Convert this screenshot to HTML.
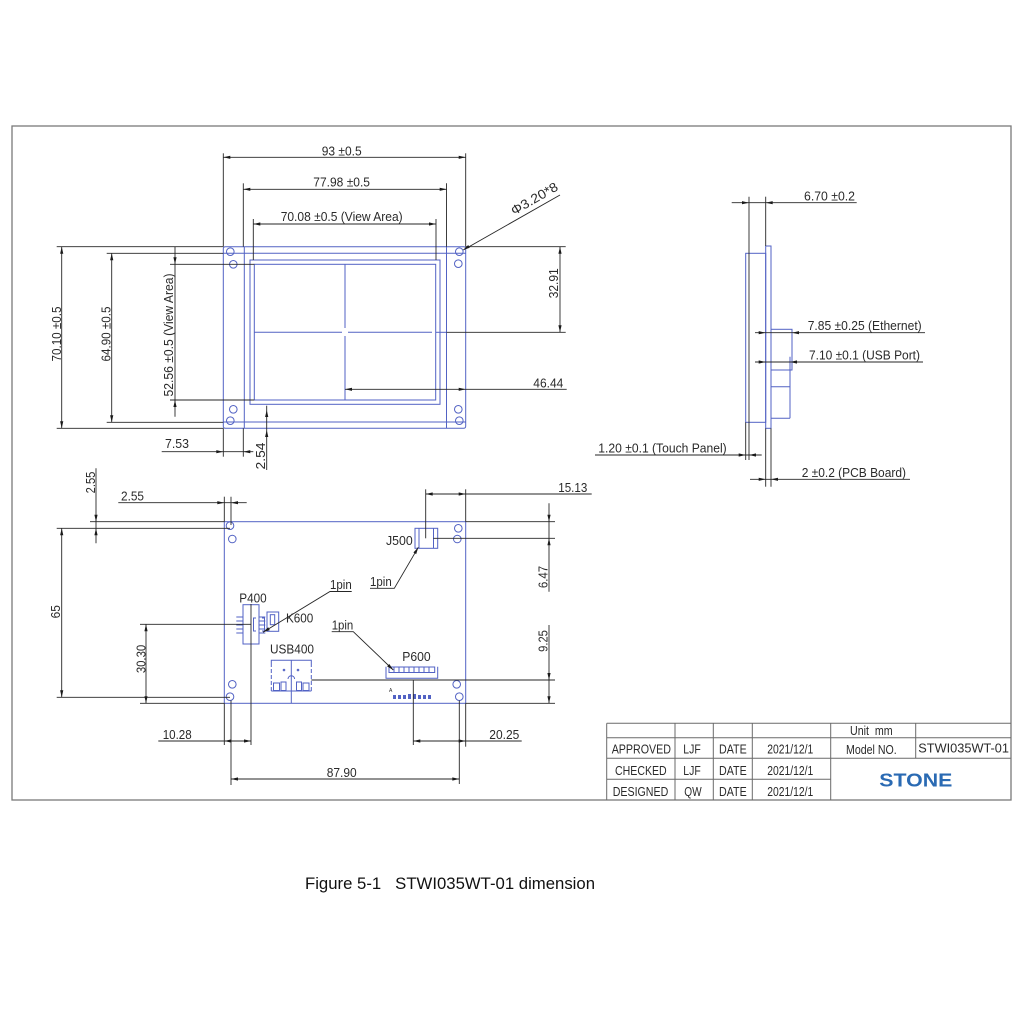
<!DOCTYPE html>
<html><head><meta charset="utf-8"><style>
html,body{margin:0;padding:0;background:#fff;}
svg{display:block;}
text{font-family:"Liberation Sans",Arial,sans-serif;fill:#2a2a2a;}
.k{stroke:#262626;stroke-width:0.9;fill:none;}
.b{stroke:#5262c4;stroke-width:1;fill:none;}
.t{stroke:#6a6a6a;stroke-width:1;fill:none;}
.a{fill:#1a1a1a;stroke:none;}
.d{font-size:13px;}
.tb{font-size:12.5px;}
</style></head><body>
<svg width="1024" height="1024" viewBox="0 0 1024 1024" xmlns="http://www.w3.org/2000/svg">
<rect x="0" y="0" width="1024" height="1024" fill="#fff"/>
<!-- frame -->
<rect x="12" y="126" width="999" height="674" fill="none" stroke="#7a7a7a" stroke-width="1.3"/>

<!-- ================= FRONT VIEW ================= -->
<g class="b">
<rect x="223.3" y="246.7" width="242.4" height="181.6" rx="2"/>
<line x1="223.3" y1="253.3" x2="465.7" y2="253.3"/>
<line x1="223.3" y1="422" x2="465.7" y2="422"/>
<line x1="244.3" y1="246.7" x2="244.3" y2="428.3"/>
<line x1="446.5" y1="246.7" x2="446.5" y2="428.3"/>
<rect x="250" y="260" width="190" height="144.3"/>
<rect x="254.3" y="264.3" width="181.4" height="135.7"/>
<line x1="345" y1="264.3" x2="345" y2="328"/>
<line x1="345" y1="336" x2="345" y2="400"/>
<line x1="254.3" y1="332.3" x2="342" y2="332.3"/>
<line x1="348" y1="332.3" x2="432" y2="332.3"/>
<line x1="436" y1="332.3" x2="446.5" y2="332.3"/>
<circle cx="230.3" cy="251.7" r="3.8"/>
<circle cx="233.3" cy="264.3" r="3.8"/>
<circle cx="233.3" cy="409.3" r="3.8"/>
<circle cx="230.3" cy="420.7" r="3.8"/>
<circle cx="459.3" cy="251.7" r="3.8"/>
<circle cx="458.3" cy="263.7" r="3.8"/>
<circle cx="458.3" cy="409.3" r="3.8"/>
<circle cx="459.3" cy="420.7" r="3.8"/>
</g>
<g class="k">
<!-- 93 -->
<line x1="223.3" y1="153.3" x2="223.3" y2="246.7"/>
<line x1="223.3" y1="428.3" x2="223.3" y2="456.7"/>
<line x1="465.7" y1="153.3" x2="465.7" y2="246.7"/>
<line x1="223.3" y1="157.3" x2="465.7" y2="157.3"/>
<!-- 77.98 -->
<line x1="243.3" y1="183.3" x2="243.3" y2="246.7"/>
<line x1="243.3" y1="428.3" x2="243.3" y2="456.7"/>
<line x1="446.5" y1="183.3" x2="446.5" y2="246.7"/>
<line x1="243.3" y1="189.3" x2="446.7" y2="189.3"/>
<!-- 70.08 -->
<line x1="253.3" y1="219" x2="253.3" y2="260"/>
<line x1="436" y1="219" x2="436" y2="260"/>
<line x1="253.3" y1="224" x2="436" y2="224"/>
<!-- 70.10 -->
<line x1="56.7" y1="246.7" x2="223.3" y2="246.7"/>
<line x1="56.7" y1="428.3" x2="223.3" y2="428.3"/>
<line x1="61.7" y1="246.7" x2="61.7" y2="428.3"/>
<!-- 64.90 -->
<line x1="106.7" y1="253.3" x2="223.3" y2="253.3"/>
<line x1="106.7" y1="422.3" x2="223.3" y2="422.3"/>
<line x1="111.7" y1="253.3" x2="111.7" y2="422.3"/>
<!-- 52.56 -->
<line x1="170" y1="264.3" x2="254.3" y2="264.3"/>
<line x1="170" y1="400" x2="254.3" y2="400"/>
<line x1="175" y1="246.7" x2="175" y2="416.7"/>
<!-- 7.53 -->
<line x1="161.7" y1="451.7" x2="253.3" y2="451.7"/>
<!-- 2.54 -->
<line x1="266.7" y1="405.7" x2="266.7" y2="470"/>
<!-- 32.91 -->
<line x1="465.7" y1="246.7" x2="565.7" y2="246.7"/>
<line x1="446.5" y1="332.3" x2="565.7" y2="332.3"/>
<line x1="560" y1="246.7" x2="560" y2="332.3"/>
<!-- 46.44 -->
<line x1="345" y1="389.3" x2="566.7" y2="389.3"/>
<!-- phi leader -->
<line x1="463.3" y1="250" x2="560" y2="195"/>
</g>
<g class="a">
<polygon points="223.3,157.3 230.3,155.7 230.3,158.9"/>
<polygon points="465.7,157.3 458.7,155.7 458.7,158.9"/>
<polygon points="243.3,189.3 250.3,187.7 250.3,190.9"/>
<polygon points="446.7,189.3 439.7,187.7 439.7,190.9"/>
<polygon points="253.3,224 260.3,222.4 260.3,225.6"/>
<polygon points="436,224 429,222.4 429,225.6"/>
<polygon points="61.7,246.7 60.1,253.7 63.3,253.7"/>
<polygon points="61.7,428.3 60.1,421.3 63.3,421.3"/>
<polygon points="111.7,253.3 110.1,260.3 113.3,260.3"/>
<polygon points="111.7,422.3 110.1,415.3 113.3,415.3"/>
<polygon points="175,264.3 173.4,257.3 176.6,257.3"/>
<polygon points="175,400 173.4,407 176.6,407"/>
<polygon points="223.3,451.7 216.3,450.1 216.3,453.3"/>
<polygon points="243.3,451.7 250.3,450.1 250.3,453.3"/>
<polygon points="266.7,410 265.1,417 268.3,417"/>
<polygon points="266.7,430 265.1,437 268.3,437"/>
<polygon points="560,246.7 558.4,253.7 561.6,253.7"/>
<polygon points="560,332.3 558.4,325.3 561.6,325.3"/>
<polygon points="345,389.3 352,387.7 352,390.9"/>
<polygon points="465.7,389.3 458.7,387.7 458.7,390.9"/>
<polygon points="463,250 469.8,247.8 468.2,245"/>
</g>
<g class="d">
<text x="321.7" y="155.5" textLength="40" lengthAdjust="spacingAndGlyphs">93 ±0.5</text>
<text x="313.3" y="186.5" textLength="56.7" lengthAdjust="spacingAndGlyphs">77.98 ±0.5</text>
<text x="280.7" y="221" textLength="122" lengthAdjust="spacingAndGlyphs">70.08 ±0.5 (View Area)</text>
<text x="533.3" y="387.5" textLength="30" lengthAdjust="spacingAndGlyphs">46.44</text>
<text x="165" y="448" textLength="24" lengthAdjust="spacingAndGlyphs">7.53</text>
<text transform="translate(61,334) rotate(-90)" x="0" y="0" text-anchor="middle" textLength="55" lengthAdjust="spacingAndGlyphs">70.10 ±0.5</text>
<text transform="translate(110.5,334) rotate(-90)" x="0" y="0" text-anchor="middle" textLength="55" lengthAdjust="spacingAndGlyphs">64.90 ±0.5</text>
<text transform="translate(173,335) rotate(-90)" x="0" y="0" text-anchor="middle" textLength="123" lengthAdjust="spacingAndGlyphs">52.56 ±0.5 (View Area)</text>
<text transform="translate(265,456) rotate(-90)" x="0" y="0" text-anchor="middle" textLength="27" lengthAdjust="spacingAndGlyphs">2.54</text>
<text transform="translate(558,283.3) rotate(-90)" x="0" y="0" text-anchor="middle" textLength="30" lengthAdjust="spacingAndGlyphs">32.91</text>
<text transform="translate(514,215.5) rotate(-30)" x="0" y="0" textLength="52" lengthAdjust="spacingAndGlyphs">Φ3.20*8</text>
</g>

<!-- ================= SIDE VIEW ================= -->
<g class="b">
<rect x="745.7" y="253.3" width="20" height="169"/>
<rect x="765.7" y="246" width="5.3" height="182.3"/>
<rect x="771" y="329.3" width="21" height="40.7"/>
<line x1="771" y1="386.7" x2="790" y2="386.7"/>
<line x1="771" y1="418.3" x2="790" y2="418.3"/>
<line x1="790" y1="356.7" x2="790" y2="418.3"/>
</g>
<g class="k">
<line x1="749" y1="196.7" x2="749" y2="460"/>
<line x1="745.7" y1="422.3" x2="745.7" y2="460"/>
<line x1="765.7" y1="196.7" x2="765.7" y2="246"/>
<line x1="765.7" y1="428.3" x2="765.7" y2="486.7"/>
<line x1="771" y1="428.3" x2="771" y2="486.7"/>
<line x1="731.7" y1="202.7" x2="856.7" y2="202.7"/>
<line x1="755" y1="332.7" x2="925" y2="332.7"/>
<line x1="755" y1="362" x2="923" y2="362"/>
<line x1="595" y1="455" x2="761.7" y2="455"/>
<line x1="750" y1="479.3" x2="910" y2="479.3"/>
</g>
<g class="a">
<polygon points="749,202.7 742,201.1 742,204.3"/>
<polygon points="765.7,202.7 772.7,201.1 772.7,204.3"/>
<polygon points="765.7,332.7 758.7,331.1 758.7,334.3"/>
<polygon points="792,332.7 799,331.1 799,334.3"/>
<polygon points="765.7,362 758.7,360.4 758.7,363.6"/>
<polygon points="790,362 797,360.4 797,363.6"/>
<polygon points="745.7,455 738.7,453.4 738.7,456.6"/>
<polygon points="749,455 756,453.4 756,456.6"/>
<polygon points="765.7,479.3 758.7,477.7 758.7,480.9"/>
<polygon points="771,479.3 778,477.7 778,480.9"/>
</g>
<g class="d">
<text x="804" y="200.5" textLength="51" lengthAdjust="spacingAndGlyphs">6.70 ±0.2</text>
<text x="807.7" y="330" textLength="114" lengthAdjust="spacingAndGlyphs">7.85 ±0.25 (Ethernet)</text>
<text x="809" y="359.5" textLength="111" lengthAdjust="spacingAndGlyphs">7.10 ±0.1 (USB Port)</text>
<text x="598.3" y="452.5" textLength="128.4" lengthAdjust="spacingAndGlyphs">1.20 ±0.1 (Touch Panel)</text>
<text x="801.7" y="477" textLength="104.3" lengthAdjust="spacingAndGlyphs">2 ±0.2 (PCB Board)</text>
</g>

<!-- ================= BOTTOM VIEW ================= -->
<g class="b">
<rect x="224.3" y="521.7" width="241.4" height="181.6"/>
<circle cx="230" cy="525.7" r="3.8"/>
<circle cx="232.3" cy="539" r="3.8"/>
<circle cx="232.3" cy="684.3" r="3.8"/>
<circle cx="230" cy="696.7" r="3.8"/>
<circle cx="458.3" cy="528.3" r="3.8"/>
<circle cx="457.3" cy="539" r="3.8"/>
<circle cx="456.7" cy="684.3" r="3.8"/>
<circle cx="459.3" cy="696.7" r="3.8"/>
<!-- J500 -->
<rect x="415" y="528.3" width="22.7" height="20"/>
<line x1="419" y1="528.3" x2="419" y2="548.3"/>
<line x1="433.5" y1="528.3" x2="433.5" y2="548.3"/>
<!-- P400 -->
<rect x="243" y="604.7" width="16" height="39.3"/>
<line x1="236.3" y1="617" x2="243" y2="617"/>
<line x1="236.3" y1="621" x2="243" y2="621"/>
<line x1="236.3" y1="625" x2="243" y2="625"/>
<line x1="236.3" y1="629" x2="243" y2="629"/>
<line x1="236.3" y1="633" x2="243" y2="633"/>
<line x1="259" y1="617" x2="265.3" y2="617"/>
<line x1="259" y1="621" x2="265.3" y2="621"/>
<line x1="259" y1="625" x2="265.3" y2="625"/>
<line x1="259" y1="629" x2="265.3" y2="629"/>
<line x1="259" y1="633" x2="265.3" y2="633"/>
<path d="M256,618 h-2.5 v13 h2.5 M262,618 h2.5 v13 h-2.5"/>
<!-- K600 -->
<rect x="267" y="612" width="11.7" height="19.3"/>
<rect x="270.3" y="614.7" width="4.4" height="10"/>
<!-- USB400 -->
<path d="M271.3,663 v-2.7 h40 v2.7" />
<line x1="271.3" y1="663" x2="271.3" y2="691" stroke-dasharray="4,2"/>
<line x1="311.3" y1="663" x2="311.3" y2="691" stroke-dasharray="4,2"/>
<line x1="291.3" y1="660.3" x2="291.3" y2="703.3"/>
<rect x="273.5" y="683" width="6" height="7.5"/>
<rect x="281" y="682" width="5" height="8.5"/>
<rect x="296.5" y="682" width="5" height="8.5"/>
<rect x="303" y="683" width="6" height="7.5"/>
<line x1="271.3" y1="691" x2="311.3" y2="691"/>
<circle cx="284" cy="670" r="0.8"/>
<circle cx="298" cy="670" r="0.8"/>
<path d="M288,679 a3.3,3.3 0 0 1 6.6,0"/>
<!-- P600 -->
<path d="M386,666.7 v11.6 h51.7 v-11.6"/>
<rect x="389" y="667" width="45.7" height="5.5"/>
<line x1="394" y1="667" x2="394" y2="672.5"/>
<line x1="399" y1="667" x2="399" y2="672.5"/>
<line x1="404" y1="667" x2="404" y2="672.5"/>
<line x1="409" y1="667" x2="409" y2="672.5"/>
<line x1="414" y1="667" x2="414" y2="672.5"/>
<line x1="419" y1="667" x2="419" y2="672.5"/>
<line x1="424" y1="667" x2="424" y2="672.5"/>
<line x1="429" y1="667" x2="429" y2="672.5"/>
</g>
<g fill="#5262c4">
<rect x="393" y="695" width="3" height="4"/>
<rect x="398" y="695" width="3" height="4"/>
<rect x="403" y="695" width="3" height="4"/>
<rect x="408" y="694" width="3" height="5"/>
<rect x="413" y="694" width="3" height="5"/>
<rect x="418" y="695" width="3" height="4"/>
<rect x="423" y="695" width="3" height="4"/>
<rect x="428" y="695" width="3" height="4"/>
<text x="389" y="692" font-size="5" fill="#5262c4">A</text>
</g>
<g class="k">
<!-- 2.55 horizontal -->
<line x1="118.3" y1="502.7" x2="246.7" y2="502.7"/>
<line x1="224.3" y1="496.7" x2="224.3" y2="521.7"/>
<line x1="231" y1="496.7" x2="231" y2="525"/>
<!-- 2.55 vertical -->
<line x1="96" y1="468.3" x2="96" y2="543.3"/>
<line x1="90" y1="521.7" x2="224.3" y2="521.7"/>
<line x1="56.7" y1="528.3" x2="230" y2="528.3"/>
<!-- 65 -->
<line x1="61.7" y1="528.3" x2="61.7" y2="697.3"/>
<line x1="56.7" y1="697.3" x2="230" y2="697.3"/>
<!-- 30.30 -->
<line x1="146" y1="624.3" x2="146" y2="703.3"/>
<line x1="140" y1="624.3" x2="251" y2="624.3"/>
<line x1="140" y1="703.3" x2="224.3" y2="703.3"/>
<!-- 10.28 -->
<line x1="158.3" y1="741" x2="251" y2="741"/>
<line x1="224.3" y1="703.3" x2="224.3" y2="745"/>
<line x1="231" y1="700.5" x2="231" y2="785"/>
<line x1="251" y1="604" x2="251" y2="745"/>
<!-- 87.90 -->
<line x1="231" y1="779" x2="459.3" y2="779"/>
<line x1="459.3" y1="700.5" x2="459.3" y2="784"/>
<!-- 20.25 -->
<line x1="413.3" y1="741" x2="521.7" y2="741"/>
<line x1="413.3" y1="680" x2="413.3" y2="745"/>
<line x1="465.7" y1="703.3" x2="465.7" y2="746.7"/>
<!-- 15.13 -->
<line x1="425.7" y1="494" x2="591.7" y2="494"/>
<line x1="425.7" y1="489.3" x2="425.7" y2="538.3"/>
<line x1="465.7" y1="489.3" x2="465.7" y2="521.7"/>
<!-- 6.47 -->
<line x1="549" y1="503.3" x2="549" y2="591.7"/>
<line x1="465.7" y1="521.7" x2="555" y2="521.7"/>
<line x1="433.3" y1="538.3" x2="555" y2="538.3"/>
<!-- 9.25 -->
<line x1="549" y1="625" x2="549" y2="703.3"/>
<line x1="311.3" y1="680" x2="555" y2="680"/>
<line x1="465.7" y1="703.3" x2="555" y2="703.3"/>
<!-- leaders -->
<polyline points="418.3,547.3 394.3,588.3 370,588.3"/>
<polyline points="263,632.3 330,591.5 351.7,591.5"/>
<polyline points="393.3,670 353.3,631.7 331.7,631.7"/>
</g>
<g class="a">
<polygon points="224.3,502.7 217.3,501.1 217.3,504.3"/>
<polygon points="231,502.7 238,501.1 238,504.3"/>
<polygon points="96,521.7 94.4,514.7 97.6,514.7"/>
<polygon points="96,528.3 94.4,535.3 97.6,535.3"/>
<polygon points="61.7,528.3 60.1,535.3 63.3,535.3"/>
<polygon points="61.7,697.3 60.1,690.3 63.3,690.3"/>
<polygon points="146,624.3 144.4,631.3 147.6,631.3"/>
<polygon points="146,703.3 144.4,696.3 147.6,696.3"/>
<polygon points="224.3,741 231.3,739.4 231.3,742.6"/>
<polygon points="251,741 244,739.4 244,742.6"/>
<polygon points="231,779 238,777.4 238,780.6"/>
<polygon points="459.3,779 452.3,777.4 452.3,780.6"/>
<polygon points="413.3,741 420.3,739.4 420.3,742.6"/>
<polygon points="465.7,741 458.7,739.4 458.7,742.6"/>
<polygon points="425.7,494 432.7,492.4 432.7,495.6"/>
<polygon points="465.7,494 458.7,492.4 458.7,495.6"/>
<polygon points="549,521.7 547.4,514.7 550.6,514.7"/>
<polygon points="549,538.3 547.4,545.3 550.6,545.3"/>
<polygon points="549,680 547.4,673 550.6,673"/>
<polygon points="549,703.3 547.4,696.3 550.6,696.3"/>
<polygon points="418.3,547.3 416.2,554.1 413.4,552.5"/>
<polygon points="263,632.3 269.8,630.1 268.2,627.3"/>
<polygon points="393.3,670 389.3,664 387.1,666.4"/>
</g>
<g class="d">
<text transform="translate(95,482.5) rotate(-90)" x="0" y="0" text-anchor="middle" textLength="21.7" lengthAdjust="spacingAndGlyphs">2.55</text>
<text x="121" y="500.5" textLength="23" lengthAdjust="spacingAndGlyphs">2.55</text>
<text transform="translate(60,611.7) rotate(-90)" x="0" y="0" text-anchor="middle" textLength="13.3" lengthAdjust="spacingAndGlyphs">65</text>
<text transform="translate(145.5,659) rotate(-90)" x="0" y="0" text-anchor="middle" textLength="28.3" lengthAdjust="spacingAndGlyphs">30.30</text>
<text x="162.7" y="739" textLength="29" lengthAdjust="spacingAndGlyphs">10.28</text>
<text x="326.7" y="777" textLength="30" lengthAdjust="spacingAndGlyphs">87.90</text>
<text x="489.3" y="739" textLength="30" lengthAdjust="spacingAndGlyphs">20.25</text>
<text x="558.3" y="492" textLength="29" lengthAdjust="spacingAndGlyphs">15.13</text>
<text transform="translate(547.5,577) rotate(-90)" x="0" y="0" text-anchor="middle" textLength="22.3" lengthAdjust="spacingAndGlyphs">6.47</text>
<text transform="translate(547.5,641) rotate(-90)" x="0" y="0" text-anchor="middle" textLength="21.7" lengthAdjust="spacingAndGlyphs">9.25</text>
<text x="386" y="545" textLength="26.7" lengthAdjust="spacingAndGlyphs">J500</text>
<text x="370" y="586" textLength="21.7" lengthAdjust="spacingAndGlyphs">1pin</text>
<text x="330" y="589" textLength="21.7" lengthAdjust="spacingAndGlyphs">1pin</text>
<text x="331.7" y="629.3" textLength="21.6" lengthAdjust="spacingAndGlyphs">1pin</text>
<text x="402.3" y="661" textLength="28.4" lengthAdjust="spacingAndGlyphs">P600</text>
<text x="239.3" y="602.7" textLength="27.4" lengthAdjust="spacingAndGlyphs">P400</text>
<text x="286" y="622.3" textLength="27.3" lengthAdjust="spacingAndGlyphs">K600</text>
<text x="270" y="653.3" textLength="44" lengthAdjust="spacingAndGlyphs">USB400</text>
</g>

<!-- ================= TITLE BLOCK ================= -->
<g class="t">
<line x1="606.7" y1="723.3" x2="1011" y2="723.3"/>
<line x1="606.7" y1="737.7" x2="1011" y2="737.7"/>
<line x1="606.7" y1="758.3" x2="1011" y2="758.3"/>
<line x1="606.7" y1="779.3" x2="830.7" y2="779.3"/>
<line x1="606.7" y1="723.3" x2="606.7" y2="800"/>
<line x1="675" y1="723.3" x2="675" y2="800"/>
<line x1="713.3" y1="723.3" x2="713.3" y2="800"/>
<line x1="752.3" y1="723.3" x2="752.3" y2="800"/>
<line x1="830.7" y1="723.3" x2="830.7" y2="800"/>
<line x1="915.7" y1="723.3" x2="915.7" y2="758.3"/>
</g>
<g class="tb">
<text x="850" y="735" textLength="42.7" lengthAdjust="spacingAndGlyphs" style="white-space:pre">Unit  mm</text>
<text x="611.7" y="753.3" textLength="59.3" lengthAdjust="spacingAndGlyphs">APPROVED</text>
<text x="683.3" y="753.3" textLength="17.4" lengthAdjust="spacingAndGlyphs">LJF</text>
<text x="719" y="753.3" textLength="27.7" lengthAdjust="spacingAndGlyphs">DATE</text>
<text x="767.3" y="753.3" textLength="46" lengthAdjust="spacingAndGlyphs">2021/12/1</text>
<text x="846" y="754" textLength="50.7" lengthAdjust="spacingAndGlyphs">Model NO.</text>
<text x="918.3" y="752.3" textLength="90.7" lengthAdjust="spacingAndGlyphs">STWI035WT-01</text>
<text x="615" y="775" textLength="51.7" lengthAdjust="spacingAndGlyphs">CHECKED</text>
<text x="683.3" y="775" textLength="17.4" lengthAdjust="spacingAndGlyphs">LJF</text>
<text x="719" y="775" textLength="27.7" lengthAdjust="spacingAndGlyphs">DATE</text>
<text x="767.3" y="775" textLength="46" lengthAdjust="spacingAndGlyphs">2021/12/1</text>
<text x="612.7" y="796" textLength="55.6" lengthAdjust="spacingAndGlyphs">DESIGNED</text>
<text x="684.3" y="796" textLength="17.4" lengthAdjust="spacingAndGlyphs">QW</text>
<text x="719" y="796" textLength="27.7" lengthAdjust="spacingAndGlyphs">DATE</text>
<text x="767.3" y="796" textLength="46" lengthAdjust="spacingAndGlyphs">2021/12/1</text>
</g>
<text x="879.3" y="786.5" font-size="18.5" font-weight="bold" textLength="73" lengthAdjust="spacingAndGlyphs" style="fill:#2a6ab3">STONE</text>

<!-- caption -->
<text x="305" y="889" font-size="16.5" textLength="290" lengthAdjust="spacingAndGlyphs" style="white-space:pre;fill:#111">Figure 5-1   STWI035WT-01 dimension</text>
</svg>
</body></html>
